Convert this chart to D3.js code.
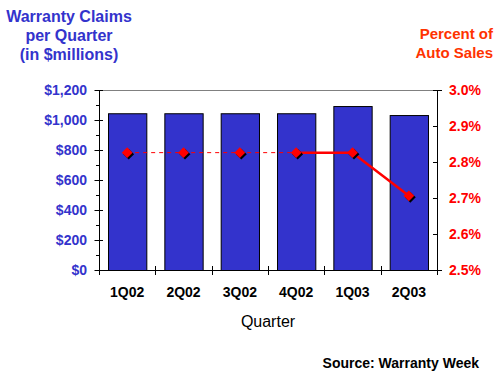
<!DOCTYPE html>
<html>
<head>
<meta charset="utf-8">
<script src="https://cdn.jsdelivr.net/npm/d3@7"></script>
<style>
  body { margin: 0; background: #fff; }
  svg { display: block; font-family: Arial, "Liberation Sans", sans-serif; }
</style>
</head>
<body>
<svg id="chart" width="500" height="375"></svg>
<script>
// chart data
const quarters = ['1Q02', '2Q02', '3Q02', '4Q02', '1Q03', '2Q03'];
const claims = [1045, 1045, 1045, 1045, 1093, 1033];      // $ millions
const pctSales = [2.826, 2.826, 2.826, 2.826, 2.826, 2.706]; // percent of auto sales
const leftTicks = [0, 200, 400, 600, 800, 1000, 1200];
const rightTicks = [2.5, 2.6, 2.7, 2.8, 2.9, 3.0];

const blue = '#3333cc', red = '#ff0000';

let svg = d3.select('#chart');
let margin = {top: 90, right: 63, bottom: 105, left: 99},
  width = 500 - margin.left - margin.right,
  height = 375 - margin.top - margin.bottom;

let x = d3.scaleBand().domain(quarters).range([0, width]).paddingInner(0.32).paddingOuter(0.16);
let band = d3.scaleBand().domain(quarters).range([0, width]);
let y = d3.scaleLinear().domain([0, 1200]).range([height, 0]);
let y2 = d3.scaleLinear().domain([2.5, 3.0]).range([height, 0]);

let g = svg.append('g').attr('transform', `translate(${margin.left},${margin.top})`);

// top gridline
g.append('line')
  .attr('x1', -4).attr('x2', width + 5)
  .attr('y1', 0.5).attr('y2', 0.5)
  .attr('stroke', '#808080');

// bars
g.selectAll('.bar')
  .data(claims)
  .enter().append('rect')
    .attr('class', 'bar')
    .attr('x', (d, i) => x(quarters[i]) + 0.5)
    .attr('y', d => y(d) + 0.5)
    .attr('width', x.bandwidth())
    .attr('height', d => height - y(d))
    .attr('fill', blue)
    .attr('stroke', '#000');

// left axis, major ticks cross, minor ticks outside
g.append('line').attr('x1', 0.5).attr('x2', 0.5).attr('y1', 0).attr('y2', height)
  .attr('stroke', '#000');
let minor = d3.range(100, 1200, 200);
g.selectAll('.minL').data(minor).enter().append('line')
  .attr('x1', -3).attr('x2', 0.5)
  .attr('y1', d => Math.round(y(d)) + 0.5).attr('y2', d => Math.round(y(d)) + 0.5)
  .attr('stroke', '#000');
g.selectAll('.majL').data(leftTicks).enter().append('line')
  .attr('x1', -4.5).attr('x2', 4)
  .attr('y1', d => Math.round(y(d)) + 0.5).attr('y2', d => Math.round(y(d)) + 0.5)
  .attr('stroke', '#000');
g.selectAll('.labL').data(leftTicks).enter().append('text')
  .attr('x', -12).attr('y', d => y(d) + 5)
  .attr('text-anchor', 'end')
  .attr('font-size', 14).attr('font-weight', 'bold')
  .attr('fill', blue)
  .text(d => '$' + d3.format(',')(d));

// right axis
g.append('line').attr('x1', width + 0.5).attr('x2', width + 0.5).attr('y1', 0).attr('y2', height)
  .attr('stroke', '#000');
g.selectAll('.majR').data(rightTicks).enter().append('line')
  .attr('x1', width - 4).attr('x2', (d, i) => (i == 0 || i == rightTicks.length - 1) ? width + 5 : width + 0.5)
  .attr('y1', d => Math.round(y2(d)) + 0.5).attr('y2', d => Math.round(y2(d)) + 0.5)
  .attr('stroke', '#000');
g.selectAll('.labR').data(rightTicks).enter().append('text')
  .attr('x', width + 12).attr('y', d => y2(d) + 5)
  .attr('font-size', 14).attr('font-weight', 'bold')
  .attr('fill', red)
  .text(d => d.toFixed(1) + '%');

// x axis
g.append('line').attr('x1', -4).attr('x2', width + 5)
  .attr('y1', height + 0.5).attr('y2', height + 0.5)
  .attr('stroke', '#000');
let bounds = quarters.map(q => band(q)).concat([width]);
g.selectAll('.tickX').data(bounds).enter().append('line')
  .attr('x1', d => Math.round(d) + 0.5).attr('x2', d => Math.round(d) + 0.5)
  .attr('y1', height - 4).attr('y2', height + 5)
  .attr('stroke', '#000');
g.selectAll('.labX').data(quarters).enter().append('text')
  .attr('x', d => band(d) + band.bandwidth() / 2)
  .attr('y', height + 27)
  .attr('text-anchor', 'middle')
  .attr('font-size', 14).attr('font-weight', 'bold')
  .text(d => d);

// percent line: dashed for flat period, solid for the last three
let cx = d => band(d) + band.bandwidth() / 2;
let line = d3.line().x(d => cx(d.q)).y(d => y2(d.v));
let pts = quarters.map((q, i) => ({q: q, v: pctSales[i]}));
g.append('path')
  .attr('d', line(pts.slice(0, 4)))
  .attr('fill', 'none').attr('stroke', red).attr('stroke-width', 1)
  .attr('stroke-dasharray', '4,4');
g.append('path')
  .attr('d', line(pts.slice(3)))
  .attr('fill', 'none').attr('stroke', red).attr('stroke-width', 2.5);

// diamond markers with black shadow
let diamond = d3.symbol().type(d3.symbolDiamond2).size(75);
g.selectAll('.shadow').data(pts).enter().append('path')
  .attr('transform', d => `translate(${cx(d.q) + 1.5},${y2(d.v) + 1.5})`)
  .attr('d', diamond)
  .attr('fill', '#000');
g.selectAll('.mark').data(pts).enter().append('path')
  .attr('transform', d => `translate(${cx(d.q)},${y2(d.v)})`)
  .attr('d', diamond)
  .attr('fill', red);

// titles
let leftTitle = ['Warranty Claims', 'per Quarter', '(in $millions)'];
svg.selectAll('.tl').data(leftTitle).enter().append('text')
  .attr('x', 69).attr('y', (d, i) => 22 + i * 19)
  .attr('text-anchor', 'middle')
  .attr('font-size', 16).attr('font-weight', 'bold')
  .attr('fill', blue)
  .text(d => d);

let rightTitle = ['Percent of', 'Auto Sales'];
svg.selectAll('.tr').data(rightTitle).enter().append('text')
  .attr('x', 493).attr('y', (d, i) => 39 + i * 19)
  .attr('text-anchor', 'end')
  .attr('font-size', 15).attr('font-weight', 'bold')
  .attr('fill', '#ff3300')
  .text(d => d);

svg.append('text')
  .attr('x', margin.left + width / 2).attr('y', 327)
  .attr('text-anchor', 'middle')
  .attr('font-size', 16)
  .text('Quarter');

svg.append('text')
  .attr('x', 479).attr('y', 368)
  .attr('text-anchor', 'end')
  .attr('font-size', 14).attr('font-weight', 'bold')
  .text('Source: Warranty Week');
</script>
</body>
</html>
